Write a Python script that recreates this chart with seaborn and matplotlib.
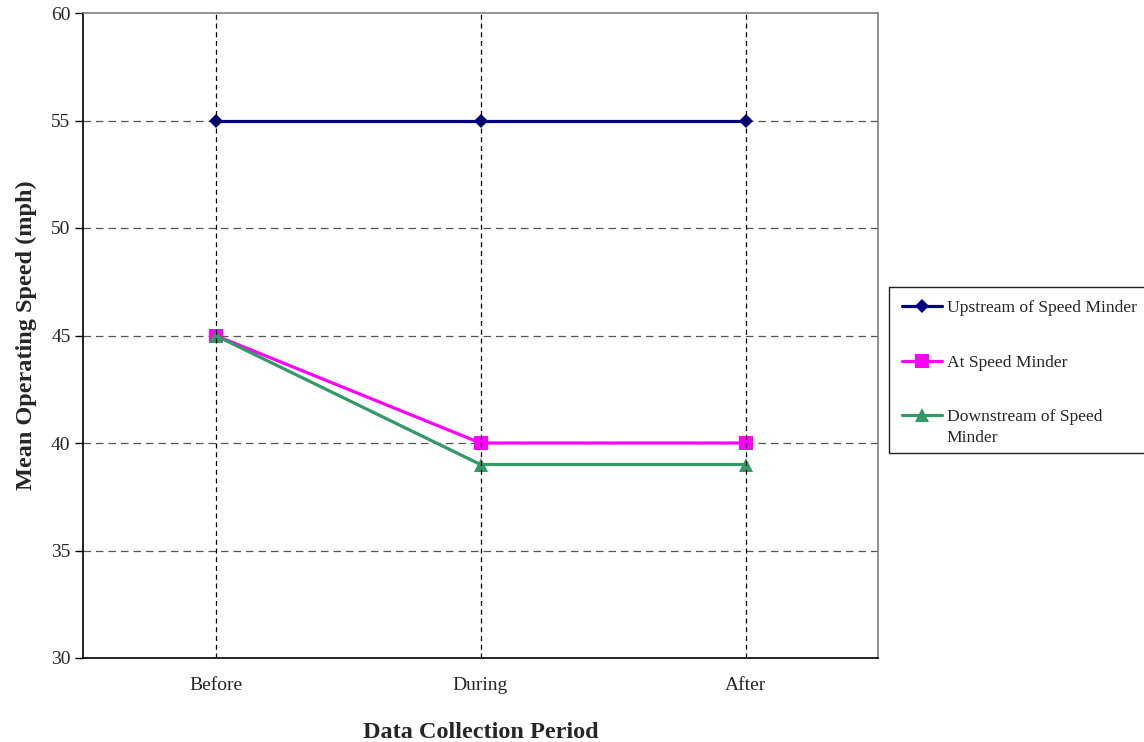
import matplotlib
matplotlib.use("Agg")
import matplotlib.pyplot as plt
from matplotlib.patches import Rectangle
import seaborn as sns
import pandas as pd

periods = ["Before", "During", "After"]
upstream = [55, 55, 55]
at_minder = [45, 40, 40]
downstream = [45, 39, 39]
series_names = ["Upstream of Speed Minder", "At Speed Minder", "Downstream of Speed"]
last_label_tail = "Minder"
y_ticks = [30, 35, 40, 45, 50, 55, 60]

sns.set_theme(style="white")
plt.rcParams["font.family"] = ["Liberation Serif", "DejaVu Serif"]

rows = []
for name, vals in zip(series_names, [upstream, at_minder, downstream]):
    for i, (p, v) in enumerate(zip(periods, vals)):
        rows.append({"pos": i, "period": p, "speed": v, "series": name})
df = pd.DataFrame(rows)

colors = ["#000080", "#FF00FF", "#339966"]
msizes = [7.6, 10, 10]

fig = plt.figure(figsize=(11.44, 7.42), dpi=100)
ax = fig.add_axes([83/1144, 1 - 658/742, (878-83)/1144, (658-13)/742])

sns.lineplot(data=df, x="pos", y="speed", hue="series", style="series",
             palette=colors, markers=["D", "s", "^"], dashes=False,
             linewidth=2.3, markersize=10, markeredgewidth=0, ax=ax, legend=True, zorder=3)

handles, labels = ax.get_legend_handles_labels()
ax.get_legend().remove()
data_lines = [l for l in ax.lines if len(l.get_xdata()) == len(periods)]
for ln, ms in zip(data_lines, msizes):
    ln.set_markersize(ms)
for h, ms in zip(handles, msizes):
    h.set_markersize(ms)
    h.set_linewidth(2.3)

ax.set_xlim(-0.5, 2.5)
ax.set_ylim(30, 60)
ax.set_yticks(y_ticks)
ax.set_yticklabels([str(t) for t in y_ticks], fontsize=14)
ax.set_xticks([-0.5, 0.5, 1.5, 2.5])
ax.set_xticklabels([])
ax.set_xticks([0, 1, 2], minor=True)
ax.set_xticklabels(periods, minor=True, fontsize=14)
ax.tick_params(axis="x", which="major", direction="in", length=5, width=1, color="black")
ax.tick_params(axis="x", which="minor", length=0, pad=14)
ax.tick_params(axis="y", direction="out", length=6, width=1, color="black", left=True, pad=3)

for y in y_ticks[1:-1]:
    ax.axhline(y, color="#555555", linestyle=(0, (6, 4)), linewidth=0.9, zorder=1)
for x in [0, 1, 2]:
    ax.axvline(x, color="black", linestyle=(0, (4, 3)), linewidth=0.9, zorder=4)

for s in ["left", "bottom"]:
    ax.spines[s].set_color("black")
    ax.spines[s].set_linewidth(1.2)
for s in ["top", "right"]:
    ax.spines[s].set_color("#808080")
    ax.spines[s].set_linewidth(1.2)

ax.set_xlabel("Data Collection Period", fontsize=17.5, fontweight="bold", labelpad=20)
ax.set_ylabel("Mean Operating Speed (mph)", fontsize=17.5, fontweight="bold", labelpad=10)

leg_fs = 12.6
leg = fig.legend(handles, labels, loc="upper left",
                 bbox_to_anchor=(902/1144, 1 - 300/742), fontsize=leg_fs,
                 frameon=False, labelspacing=2.18, handlelength=2.3, handletextpad=0.25,
                 borderpad=0, borderaxespad=0)

fig.canvas.draw()
t3 = leg.get_texts()[2]
bb = t3.get_window_extent()
fig.text(bb.x0 / 1144, (bb.y0 - 21) / 742, last_label_tail, fontsize=leg_fs,
         ha="left", va="bottom")
fig.patches.append(Rectangle((889/1144, 1 - 453/742), 0.3, (453 - 287)/742,
                             transform=fig.transFigure, fill=False,
                             edgecolor="#222222", linewidth=1.0))

fig.savefig("out.png", dpi=100, facecolor="white")
